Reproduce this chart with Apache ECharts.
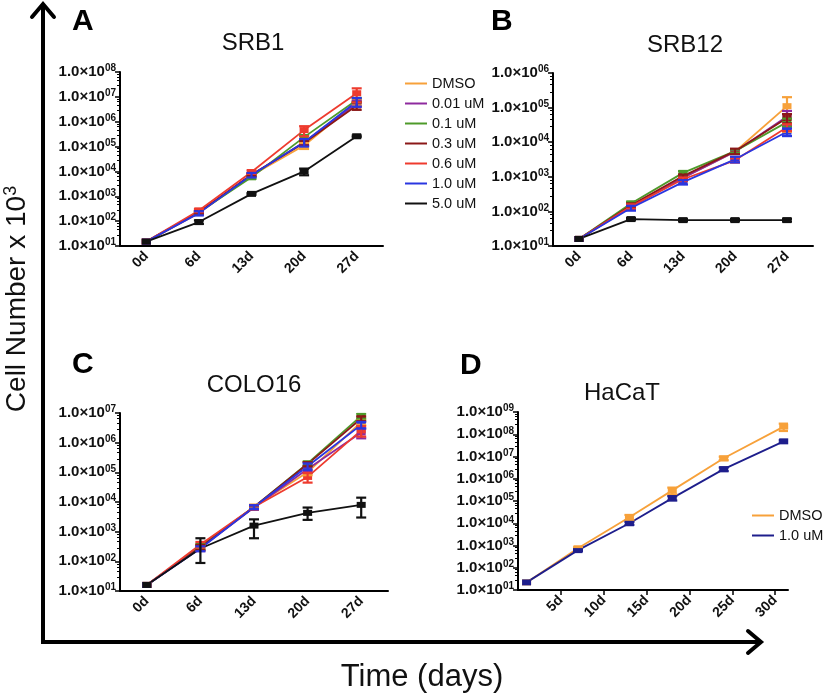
<!DOCTYPE html>
<html><head><meta charset="utf-8">
<script src="https://cdn.jsdelivr.net/npm/echarts@6/dist/echarts.min.js"></script>
<style>html,body{margin:0;padding:0;background:#fff}#c{width:827px;height:695px}</style>
</head><body><div id="c"></div>
<script>
// ---------- DATA ----------
const dayCats = ['0d', '6d', '13d', '20d', '27d'];
const doseNames = ['DMSO', '0.01 uM', '0.1 uM', '0.3 uM', '0.6 uM', '1.0 uM', '5.0 uM'];
const doseColors = ['#F7A13A', '#8E2A9E', '#4E9A2A', '#8B1818', '#EE3B2E', '#2A36E0', '#111111'];

// Panel A: SRB1
const A_DMSO = [15, 210, 6800, 110000, 6.0e6];
const A_001  = [15, 220, 7000, 150000, 5.5e6];
const A_01   = [15, 230, 5800, 240000, 7.5e6];
const A_03   = [15, 230, 7500, 140000, 4.5e6];
const A_06   = [15, 270, 9500, 460000, 1.4e7];
const A_10   = [15, 210, 7200, 150000, 6.5e6];
const A_50   = [15, 92, 1250, 10000, 2.6e5];
const A_DMSO_err = [0, 30, 800, 30000, 1.5e6];
const A_001_err  = [0, 30, 1000, 40000, 1.5e6];
const A_01_err   = [0, 30, 800, 50000, 1.5e6];
const A_03_err   = [0, 30, 1000, 30000, 1.5e6];
const A_06_err   = [0, 40, 1500, 200000, 8e6];
const A_10_err   = [0, 40, 1500, 50000, 2.5e6];
const A_50_err   = [0, 15, 100, 3000, 20000];

// Panel B: SRB12
const B_DMSO = [16, 140, 950, 5300, 1.1e5];
const B_001  = [16, 135, 930, 5300, 5.5e4];
const B_01   = [16, 170, 1300, 5500, 3.8e4];
const B_03   = [16, 150, 1050, 5500, 5.0e4];
const B_06   = [16, 140, 850, 3000, 2.7e4];
const B_10   = [16, 125, 700, 3200, 2.0e4];
const B_50   = [16, 60, 56, 56, 56];
const B_DMSO_err = [0, 15, 100, 600, 9e4];
const B_001_err  = [0, 15, 100, 600, 2.5e4];
const B_01_err   = [0, 20, 150, 600, 1e4];
const B_03_err   = [0, 20, 100, 1000, 1.5e4];
const B_06_err   = [0, 20, 100, 400, 6000];
const B_10_err   = [0, 20, 100, 600, 5000];
const B_50_err   = [0, 4, 4, 4, 5];

// Panel C: COLO16
const C_DMSO = [16, 300, 7000, 1.0e5, 5.0e6];
const C_001  = [16, 280, 6500, 1.3e5, 2.2e6];
const C_01   = [16, 320, 6800, 2.0e5, 8.0e6];
const C_03   = [16, 300, 6800, 1.9e5, 6.5e6];
const C_06   = [16, 370, 6800, 7.0e4, 2.6e6];
const C_10   = [16, 270, 6800, 1.6e5, 4.0e6];
const C_50   = [16, 270, 1600, 4300, 8000];
const C_DMSO_err = [0, 60, 1000, 20000, 1e6];
const C_001_err  = [0, 60, 1000, 30000, 8e5];
const C_01_err   = [0, 60, 1000, 30000, 1.5e6];
const C_03_err   = [0, 60, 1000, 30000, 1.2e6];
const C_06_err   = [0, 80, 1000, 25000, 1e6];
const C_10_err   = [0, 50, 1000, 40000, 1e6];
const C_50_lo    = [16, 88, 600, 2500, 3000];
const C_50_hi    = [16, 600, 2600, 6500, 14000];

// Panel D: HaCaT
const D_days = [1, 7, 13, 18, 24, 31];
const D_names = ['DMSO', '1.0 uM'];
const D_colors = ['#F7A13A', '#1E1E8C'];
const D_DMSO = [22, 750, 18600, 3.0e5, 8.3e6, 2.2e8];
const D_10   = [22, 620, 10000, 1.35e5, 2.7e6, 4.8e7];
const D_DMSO_err = [0, 80, 5000, 1e5, 1.5e6, 8e7];
const D_10_err   = [0, 60, 1500, 3e4, 5e5, 6e6];
const D_tickDays = [5, 10, 15, 20, 25, 30];

// ---------- BUILD ----------
const FONT = 'Liberation Sans';
const grids = [
  {left: 120, top: 72, width: 263, height: 174},
  {left: 553, top: 73, width: 260, height: 173},
  {left: 120, top: 413, width: 268, height: 178},
  {left: 518, top: 412, width: 270, height: 178}
];
const yMax = [1e8, 1e6, 1e7, 1e9];

function yAxisFor(i) {
  return {
    type: 'log', logBase: 10, gridIndex: i, min: 10, max: yMax[i],
    axisLine: {show: true, lineStyle: {color: '#000', width: 2}},
    axisTick: {show: true, length: 5, lineStyle: {color: '#000', width: 1.5}},
    minorTick: {show: true, splitNumber: 5, length: 3, lineStyle: {color: '#000', width: 1}},
    splitLine: {show: false},
    axisLabel: {
      margin: 4, fontFamily: FONT, fontWeight: 'bold', fontSize: 15, color: '#111',
      formatter: function (v) {
        const e = Math.round(Math.log10(v));
        return '1.0×10{s|' + (e < 10 ? '0' + e : e) + '}';
      },
      rich: {s: {fontSize: 10, fontWeight: 'bold', fontFamily: FONT, verticalAlign: 'top', padding: [0, 0, 7, 0], color: '#111'}}
    }
  };
}
function xCatAxis(i) {
  return {
    type: 'category', gridIndex: i, data: dayCats, boundaryGap: true,
    axisLine: {lineStyle: {color: '#000', width: 2}},
    axisTick: {alignWithLabel: true, length: 5, lineStyle: {color: '#000', width: 1.5}},
    axisLabel: {rotate: 45, margin: 8, fontFamily: FONT, fontWeight: 'bold', fontSize: 14, color: '#111', interval: 0}
  };
}

function errRender(params, api) {
  const x = api.value(0), lo = api.value(1), hi = api.value(2);
  const pLo = api.coord([x, Math.max(lo, 1)]);
  const pHi = api.coord([x, hi]);
  const c = api.visual('color');
  const w = 5;
  const st = {stroke: c, lineWidth: 2.2};
  return {type: 'group', children: [
    {type: 'line', shape: {x1: pLo[0], y1: pLo[1], x2: pHi[0], y2: pHi[1]}, style: st},
    {type: 'line', shape: {x1: pHi[0] - w, y1: pHi[1], x2: pHi[0] + w, y2: pHi[1]}, style: st},
    {type: 'line', shape: {x1: pLo[0] - w, y1: pLo[1], x2: pLo[0] + w, y2: pLo[1]}, style: st}
  ]};
}

const series = [];
function addSeries(gi, name, color, xs, vals, lo, hi) {
  const data = vals.map((v, k) => xs ? [xs[k], v] : v);
  series.push({
    type: 'line', name: name, xAxisIndex: gi, yAxisIndex: gi, data: data,
    color: color, lineStyle: {width: 1.8, color: color},
    symbol: 'rect', symbolSize: [9, 6], itemStyle: {color: color},
    emphasis: {disabled: true}, animation: false, z: 3
  });
  const ed = [];
  vals.forEach((v, k) => {
    if (hi[k] > v) ed.push([xs ? xs[k] : k, lo[k], hi[k]]);
  });
  series.push({
    type: 'custom', name: name, xAxisIndex: gi, yAxisIndex: gi, renderItem: errRender,
    data: ed, encode: {x: 0, y: [1, 2]}, itemStyle: {color: color}, clip: true,
    animation: false, silent: true, z: 4
  });
}
function symErr(vals, err) {
  return [vals.map((v, k) => v - err[k]), vals.map((v, k) => v + err[k])];
}

const panelA = [[A_DMSO, A_DMSO_err], [A_001, A_001_err], [A_01, A_01_err], [A_03, A_03_err], [A_06, A_06_err], [A_10, A_10_err], [A_50, A_50_err]];
const panelB = [[B_DMSO, B_DMSO_err], [B_001, B_001_err], [B_01, B_01_err], [B_03, B_03_err], [B_06, B_06_err], [B_10, B_10_err], [B_50, B_50_err]];
const panelC = [[C_DMSO, C_DMSO_err], [C_001, C_001_err], [C_01, C_01_err], [C_03, C_03_err], [C_06, C_06_err], [C_10, C_10_err]];

panelA.forEach((p, i) => { const e = symErr(p[0], p[1]); addSeries(0, doseNames[i], doseColors[i], null, p[0], e[0], e[1]); });
panelB.forEach((p, i) => { const e = symErr(p[0], p[1]); addSeries(1, doseNames[i], doseColors[i], null, p[0], e[0], e[1]); });
panelC.forEach((p, i) => { const e = symErr(p[0], p[1]); addSeries(2, doseNames[i], doseColors[i], null, p[0], e[0], e[1]); });
addSeries(2, doseNames[6], doseColors[6], null, C_50, C_50_lo, C_50_hi);
const dLegend = D_names.map(n => n + ' ');
[[D_DMSO, D_DMSO_err], [D_10, D_10_err]].forEach((p, i) => {
  const e = symErr(p[0], p[1]); addSeries(3, dLegend[i], D_colors[i], D_days, p[0], e[0], e[1]);
});

const xAxes = [xCatAxis(0), xCatAxis(1), xCatAxis(2), {
  type: 'value', gridIndex: 3, min: 0, max: 31.5, interval: 5,
  axisLine: {lineStyle: {color: '#000', width: 2}},
  axisTick: {length: 5, lineStyle: {color: '#000', width: 1.5}},
  splitLine: {show: false},
  axisLabel: {rotate: 45, margin: 8, fontFamily: FONT, fontWeight: 'bold', fontSize: 14, color: '#111',
    showMinLabel: false, showMaxLabel: false,
    formatter: v => (D_tickDays.indexOf(v) >= 0 ? v + 'd' : '')}
}];

const titleStyle = {fontFamily: FONT, fontSize: 24, fontWeight: 'normal', color: '#111'};
const letterStyle = {fontFamily: FONT, fontSize: 30, fontWeight: 'bold', color: '#000'};

const option = {
  backgroundColor: '#fff',
  animation: false,
  grid: grids,
  xAxis: xAxes,
  yAxis: [yAxisFor(0), yAxisFor(1), yAxisFor(2), yAxisFor(3)],
  title: [
    {text: 'SRB1', left: 253, top: 31, padding: 0, textAlign: 'center', textStyle: titleStyle},
    {text: 'SRB12', left: 685, top: 33, padding: 0, textAlign: 'center', textStyle: titleStyle},
    {text: 'COLO16', left: 254, top: 373, padding: 0, textAlign: 'center', textStyle: titleStyle},
    {text: 'HaCaT', left: 622, top: 381, padding: 0, textAlign: 'center', textStyle: titleStyle},
    {text: 'A', left: 72, top: 7, padding: 0, textStyle: letterStyle},
    {text: 'B', left: 491, top: 7, padding: 0, textStyle: letterStyle},
    {text: 'C', left: 72, top: 350, padding: 0, textStyle: letterStyle},
    {text: 'D', left: 460, top: 351, padding: 0, textStyle: letterStyle}
  ],
  legend: [
    {data: doseNames, orient: 'vertical', left: 400, top: 71, icon: 'rect', itemWidth: 22, itemHeight: 2,
     itemGap: 5, textStyle: {fontFamily: FONT, fontSize: 14.5, color: '#111', lineHeight: 14}, selectedMode: false},
    {data: dLegend, orient: 'vertical', left: 747, top: 503, icon: 'rect', itemWidth: 22, itemHeight: 2,
     itemGap: 5, textStyle: {fontFamily: FONT, fontSize: 14.5, color: '#111', lineHeight: 14}, selectedMode: false}
  ],
  series: series,
  graphic: [
    {type: 'line', shape: {x1: 43, y1: 644, x2: 43, y2: 4}, style: {stroke: '#000', lineWidth: 4}},
    {type: 'polyline', shape: {points: [[32, 17], [43, 4], [54, 17]]}, style: {stroke: '#000', lineWidth: 4, fill: null, lineCap: 'round', lineJoin: 'miter'}},
    {type: 'line', shape: {x1: 41, y1: 642, x2: 761, y2: 642}, style: {stroke: '#000', lineWidth: 4}},
    {type: 'polyline', shape: {points: [[748, 631], [761, 642], [748, 653]]}, style: {stroke: '#000', lineWidth: 4, fill: null, lineCap: 'round'}},
    {type: 'text', x: 17, y: 299, rotation: Math.PI / 2,
     style: {text: 'Cell Number x 10{s|3}', textAlign: 'center', textVerticalAlign: 'middle', fontFamily: FONT, fontSize: 28, fill: '#111',
       rich: {s: {fontSize: 18, verticalAlign: 'top', padding: [0, 0, 12, 0], fontFamily: FONT, fill: '#111'}}}},
    {type: 'text', x: 422, y: 677, style: {text: 'Time (days)', textAlign: 'center', textVerticalAlign: 'middle', fontFamily: FONT, fontSize: 31, fill: '#111'}}
  ]
};
const chart = echarts.init(document.getElementById('c'), null, {renderer: 'canvas'});
chart.setOption(option);
</script>
</body></html>
